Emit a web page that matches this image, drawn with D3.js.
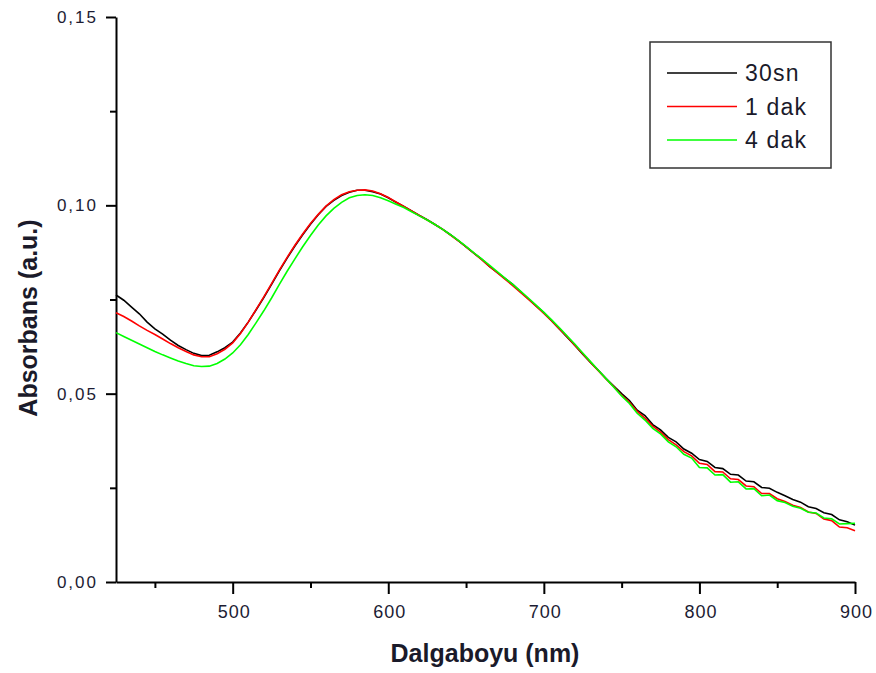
<!DOCTYPE html>
<html>
<head>
<meta charset="utf-8">
<script src="https://cdn.jsdelivr.net/npm/d3@7.9.0/dist/d3.min.js"></script>
<style>
  body { margin: 0; background: #fff; }
  svg { display: block; font-family: Arial, "Liberation Sans", sans-serif; }
  .axis path, .axis line { stroke: #000; }
</style>
</head>
<body>
<svg width="876" height="673"></svg>
<script>
// wavelengths every 5 nm, 425..900
const wavelengths = d3.range(425, 901, 5);

const seriesNames = ['30sn', '1 dak', '4 dak'];
const seriesColors = ['#000000', '#ff0000', '#00ff00'];

const abs30sn = [
  0.0762, 0.0748, 0.0730, 0.0712, 0.0690, 0.0672, 0.0658, 0.0642, 0.0628, 0.0617,
  0.0607, 0.0601, 0.0602, 0.0611, 0.0622, 0.0637, 0.0661, 0.0690, 0.0722, 0.0755,
  0.0790, 0.0826, 0.0860, 0.0892, 0.0922, 0.0950, 0.0975, 0.0997, 0.1013, 0.1026,
  0.1035, 0.1040, 0.1040, 0.1036, 0.1030, 0.1020, 0.1008, 0.0997, 0.0985, 0.0973,
  0.0962, 0.0949, 0.0936, 0.0922, 0.0906, 0.0890, 0.0873, 0.0857, 0.0838, 0.0822,
  0.0806, 0.0790, 0.0771, 0.0752, 0.0733, 0.0715, 0.0694, 0.0672, 0.0650, 0.0628,
  0.0605, 0.0583, 0.0562, 0.0540, 0.0520, 0.0500, 0.0482, 0.0456, 0.0442, 0.0418,
  0.0404, 0.0384, 0.0372, 0.0353, 0.0342, 0.0325, 0.0320, 0.0304, 0.0301, 0.0286,
  0.0284, 0.0268, 0.0266, 0.0251, 0.0249, 0.0238, 0.0229, 0.0219, 0.0212, 0.0200,
  0.0195, 0.0184, 0.0179, 0.0165, 0.0160, 0.0151
];

const abs1dak = [
  0.0715, 0.0705, 0.0693, 0.0680, 0.0668, 0.0657, 0.0645, 0.0633, 0.0622, 0.0612,
  0.0603, 0.0598, 0.0598, 0.0606, 0.0618, 0.0635, 0.0660, 0.0690, 0.0723, 0.0757,
  0.0792, 0.0828, 0.0862, 0.0894, 0.0924, 0.0952, 0.0976, 0.0998, 0.1015, 0.1028,
  0.1036, 0.1040, 0.1041, 0.1038, 0.1031, 0.1021, 0.1009, 0.0997, 0.0985, 0.0973,
  0.0961, 0.0949, 0.0936, 0.0921, 0.0906, 0.0890, 0.0873, 0.0856, 0.0838, 0.0821,
  0.0804, 0.0787, 0.0769, 0.0751, 0.0732, 0.0713, 0.0693, 0.0672, 0.0651, 0.0628,
  0.0606, 0.0583, 0.0561, 0.0539, 0.0518, 0.0496, 0.0477, 0.0453, 0.0435, 0.0414,
  0.0398, 0.0378, 0.0364, 0.0346, 0.0335, 0.0315, 0.0312, 0.0293, 0.0292, 0.0274,
  0.0272, 0.0255, 0.0253, 0.0235, 0.0235, 0.0221, 0.0214, 0.0204, 0.0198, 0.0186,
  0.0182, 0.0167, 0.0163, 0.0146, 0.0144, 0.0136
];

const abs4dak = [
  0.0662, 0.0652, 0.0642, 0.0632, 0.0622, 0.0612, 0.0603, 0.0595, 0.0587, 0.0580,
  0.0574, 0.0572, 0.0573, 0.0580, 0.0592, 0.0608, 0.0630, 0.0657, 0.0688, 0.0720,
  0.0754, 0.0790, 0.0825, 0.0858, 0.0890, 0.0920, 0.0948, 0.0972, 0.0992, 0.1008,
  0.1020, 0.1026, 0.1028, 0.1026, 0.1020, 0.1012, 0.1003, 0.0994, 0.0983, 0.0972,
  0.0961, 0.0949, 0.0936, 0.0922, 0.0907, 0.0891, 0.0874, 0.0858, 0.0841, 0.0824,
  0.0807, 0.0790, 0.0772, 0.0754, 0.0735, 0.0716, 0.0696, 0.0675, 0.0653, 0.0631,
  0.0608, 0.0585, 0.0562, 0.0540, 0.0517, 0.0494, 0.0474, 0.0448, 0.0430, 0.0408,
  0.0393, 0.0372, 0.0359, 0.0339, 0.0329, 0.0304, 0.0303, 0.0284, 0.0285, 0.0265,
  0.0266, 0.0247, 0.0248, 0.0229, 0.0231, 0.0216, 0.0211, 0.0201, 0.0196, 0.0185,
  0.0183, 0.0170, 0.0168, 0.0154, 0.0155, 0.0156
];

const allSeries = [abs30sn, abs1dak, abs4dak];

const xTicks = [500, 600, 700, 800, 900];
const xMinor = [450, 550, 650, 750, 850];
const yTicks = [0, 0.05, 0.10, 0.15];
const yMinor = [0.025, 0.075, 0.125];

const svg = d3.select('svg');
const plotLeft = 116, plotRight = 855, plotTop = 17, plotBottom = 582;

const x = d3.scaleLinear().domain([425, 900]).range([plotLeft, plotRight]);
const y = d3.scaleLinear().domain([0, 0.15]).range([plotBottom, plotTop]);

const fmt = (d) => d3.format('.2f')(d).replace('.', ',');

// minor ticks first, then major axes on top
svg.append('g')
  .attr('class', 'axis')
  .attr('transform', `translate(0,${plotBottom})`)
  .call(d3.axisBottom(x).tickValues(xMinor).tickSize(6).tickFormat(''))
  .call((g) => g.select('.domain').remove())
  .selectAll('line').attr('stroke-width', 2);

svg.append('g')
  .attr('class', 'axis')
  .attr('transform', `translate(${plotLeft},0)`)
  .call(d3.axisLeft(y).tickValues(yMinor).tickSize(6).tickFormat(''))
  .call((g) => g.select('.domain').remove())
  .selectAll('line').attr('stroke-width', 2);

const xAxis = svg.append('g')
  .attr('class', 'axis')
  .attr('transform', `translate(0,${plotBottom})`)
  .call(d3.axisBottom(x).tickValues(xTicks).tickSize(12).tickSizeOuter(0).tickPadding(11).tickFormat(d3.format('d')));
xAxis.select('.domain').attr('stroke-width', 2);
xAxis.selectAll('line').attr('stroke-width', 2);
xAxis.selectAll('text')
  .attr('font-size', 18)
  .attr('letter-spacing', 1)
  .attr('dx', 1)
  .attr('fill', '#1c1c33');

const yAxis = svg.append('g')
  .attr('class', 'axis')
  .attr('transform', `translate(${plotLeft},0)`)
  .call(d3.axisLeft(y).tickValues(yTicks).tickSize(10).tickSizeOuter(0).tickPadding(10).tickFormat(fmt));
yAxis.select('.domain').attr('stroke-width', 2);
yAxis.selectAll('line').attr('stroke-width', 2);
yAxis.selectAll('text')
  .attr('font-size', 17)
  .attr('letter-spacing', 2)
  .attr('dx', 2)
  .attr('fill', '#1c1c33');

// curves
const line = d3.line()
  .x((d, i) => x(wavelengths[i]))
  .y((d) => y(d));

allSeries.forEach((s, i) => {
  svg.append('path')
    .datum(s)
    .attr('fill', 'none')
    .attr('stroke', seriesColors[i])
    .attr('stroke-width', 1.6)
    .attr('d', line);
});

// axis titles
svg.append('text')
  .attr('x', 485)
  .attr('y', 662)
  .attr('text-anchor', 'middle')
  .attr('font-size', 25)
  .attr('font-weight', 'bold')
  .attr('fill', '#1a1a2a')
  .text('Dalgaboyu (nm)');

svg.append('text')
  .attr('transform', 'translate(37,318) rotate(-90)')
  .attr('text-anchor', 'middle')
  .attr('font-size', 25)
  .attr('font-weight', 'bold')
  .attr('fill', '#1a1a2a')
  .text('Absorbans (a.u.)');

// legend
const legend = svg.append('g');
legend.append('rect')
  .attr('x', 650).attr('y', 42)
  .attr('width', 181).attr('height', 126)
  .attr('fill', '#fff')
  .attr('stroke', '#333')
  .attr('stroke-width', 1.5);

seriesNames.forEach((name, i) => {
  const ly = 73 + i * 33.5;
  legend.append('line')
    .attr('x1', 667).attr('x2', 737)
    .attr('y1', ly).attr('y2', ly)
    .attr('stroke', seriesColors[i])
    .attr('stroke-width', 1.5);
  legend.append('text')
    .attr('x', 745).attr('y', ly + 8)
    .attr('font-size', 23)
    .attr('letter-spacing', 1.2)
    .attr('fill', '#1a1a2a')
    .text(name);
});
</script>
</body>
</html>
